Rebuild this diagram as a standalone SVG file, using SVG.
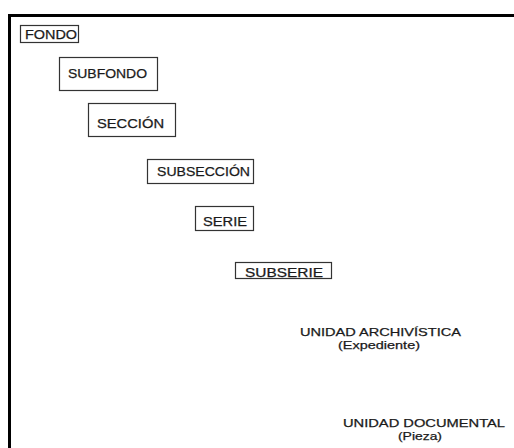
<svg xmlns="http://www.w3.org/2000/svg" width="514" height="448" viewBox="0 0 514 448">
<style>
.frame{stroke:#000;stroke-width:3;fill:none}
.box{fill:#fff;stroke:#333;stroke-width:1.2}
text{font-family:"Liberation Sans",Arial,sans-serif;font-size:12.5px;fill:#1a1a1a;stroke:#1a1a1a;stroke-width:0.25}
.s{font-size:11.5px}
</style>
<rect width="514" height="448" fill="#fff"/>
<g id="frame">
<path class="frame" d="M9.5,448 V15.5 H514"/>
</g>
<g id="connectors"></g>
<g id="fondo">
<rect class="box" x="20.5" y="25.5" width="58" height="17"/>
<text x="25" y="39" textLength="52" lengthAdjust="spacingAndGlyphs">FONDO</text>
</g>
<g id="subfondo">
<rect class="box" x="59.5" y="57.5" width="98" height="33"/>
<text x="68" y="78" textLength="79" lengthAdjust="spacingAndGlyphs">SUBFONDO</text>
</g>
<g id="seccion">
<rect class="box" x="88.5" y="103.5" width="87" height="33"/>
<text x="97" y="128" textLength="67" lengthAdjust="spacingAndGlyphs">SECCIÓN</text>
</g>
<g id="subseccion">
<rect class="box" x="147.5" y="159.5" width="106" height="24"/>
<text x="157" y="176" textLength="93" lengthAdjust="spacingAndGlyphs">SUBSECCIÓN</text>
</g>
<g id="serie">
<rect class="box" x="195.5" y="206.5" width="58" height="24"/>
<text x="203" y="226" textLength="44" lengthAdjust="spacingAndGlyphs">SERIE</text>
</g>
<g id="subserie">
<rect class="box" x="235.5" y="262.5" width="96" height="16"/>
<text x="245" y="277" textLength="78" lengthAdjust="spacingAndGlyphs">SUBSERIE</text>
</g>
<g id="unidad-archivistica">
<text class="s" x="300" y="336" textLength="161" lengthAdjust="spacingAndGlyphs">UNIDAD ARCHIVÍSTICA</text>
<text class="s" x="338" y="349" textLength="82" lengthAdjust="spacingAndGlyphs">(Expediente)</text>
</g>
<g id="unidad-documental">
<text class="s" x="343" y="427" textLength="162" lengthAdjust="spacingAndGlyphs">UNIDAD DOCUMENTAL</text>
<text class="s" x="398" y="440" textLength="44" lengthAdjust="spacingAndGlyphs">(Pieza)</text>
</g>
</svg>
